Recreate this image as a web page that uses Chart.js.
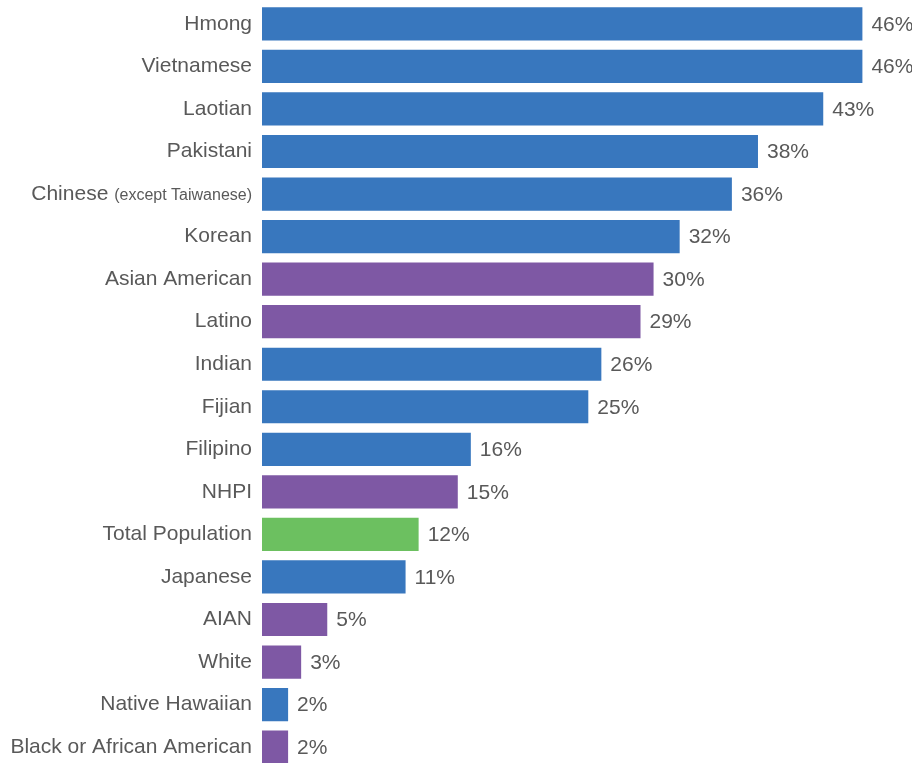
<!DOCTYPE html>
<html lang="en">
<head>
  <meta charset="UTF-8">
  <title>Share by group</title>
  <script src="https://cdn.jsdelivr.net/npm/chart.js"></script>
  <style>
    html, body { margin: 0; padding: 0; background: #fff; overflow: hidden; }
    #wrap { width: 912px; height: 763px; overflow: hidden; }
    #groupChart { display: block; margin-top: -20px; }
  </style>
</head>
<body>
  <div id="wrap">
    <canvas id="groupChart" width="912" height="811"></canvas>
  </div>

  <script>
    // Groups, top to bottom
    const groups = [
      'Hmong', 'Vietnamese', 'Laotian', 'Pakistani', 'Chinese', 'Korean',
      'Asian American', 'Latino', 'Indian', 'Fijian', 'Filipino', 'NHPI',
      'Total Population', 'Japanese', 'AIAN', 'White', 'Native Hawaiian',
      'Black or African American'
    ];
    // Percent values
    const values = [46, 46, 43, 38, 36, 32, 30, 29, 26, 25, 16, 15, 12, 11, 5, 3, 2, 2];
    // Bar kind: a = Asian subgroup, r = race/ethnicity total, t = total population
    const kinds = ['a', 'a', 'a', 'a', 'a', 'a', 'r', 'r', 'a', 'a', 'a', 'r', 't', 'a', 'r', 'r', 'a', 'r'];

    const colors = { a: '#3877be', r: '#7e58a4', t: '#6cc060' };
    const textColor = '#595959';
    const labelFont = '"Liberation Sans", Arial, sans-serif';

    // Value labels at the end of each bar, plus the two-size Chinese label
    const labelPlugin = {
      id: 'labels',
      afterDatasetsDraw(chart) {
        const ctx = chart.ctx;
        const meta = chart.getDatasetMeta(0);
        ctx.save();
        ctx.fillStyle = textColor;
        ctx.textBaseline = 'middle';
        ctx.font = '21px ' + labelFont;
        ctx.textAlign = 'left';
        meta.data.forEach((bar, i) => {
          ctx.fillText(values[i] + '%', bar.x + 9, bar.y + 1);
        });

        // "Chinese (except Taiwanese)"
        const ci = groups.indexOf('Chinese');
        const y = meta.data[ci].y;
        const right = chart.chartArea.left - 10;
        ctx.textAlign = 'right';
        ctx.font = '16px ' + labelFont;
        const small = '(except Taiwanese)';
        ctx.fillText(small, right, y + 2);
        const w = ctx.measureText(small).width;
        ctx.font = '21px ' + labelFont;
        ctx.fillText('Chinese ', right - w, y);
        ctx.restore();
      }
    };

    new Chart(document.getElementById('groupChart'), {
      type: 'bar',
      data: {
        labels: groups,
        datasets: [{
          data: values,
          backgroundColor: kinds.map(k => colors[k]),
          borderWidth: 0,
          barPercentage: 1,
          categoryPercentage: 0.78
        }]
      },
      options: {
        indexAxis: 'y',
        responsive: false,
        animation: false,
        layout: { padding: { top: 2, right: 0, bottom: 0, left: 0 } },
        plugins: {
          legend: { display: false },
          tooltip: { enabled: false }
        },
        scales: {
          x: {
            min: 0,
            max: 49.8,
            display: false
          },
          y: {
            border: { display: false },
            grid: { display: false, drawTicks: false },
            afterFit(scale) { scale.width = 262; },
            ticks: {
              padding: 10,
              color: textColor,
              font: { family: labelFont, size: 21 },
              callback(value, index) {
                return groups[index] === 'Chinese' ? '' : groups[index];
              }
            }
          }
        }
      },
      plugins: [labelPlugin]
    });
  </script>
</body>
</html>
